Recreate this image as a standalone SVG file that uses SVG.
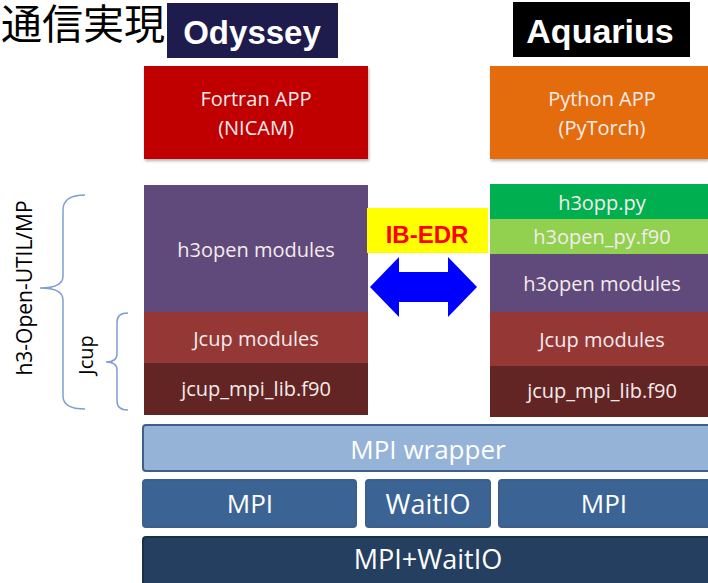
<svg xmlns="http://www.w3.org/2000/svg" width="708" height="583" viewBox="0 0 708 583">
<defs>
<filter id="sh" x="-5%" y="-5%" width="110%" height="115%"><feDropShadow dx="1" dy="2" stdDeviation="1.5" flood-color="#000" flood-opacity="0.3"/></filter>
</defs>
<style>
.t{font-family:"Open Sans","Noto Sans",sans-serif;fill:#f4ecec;text-anchor:middle;}
.s20{font-size:20px}
.s26{font-size:26px}
.s27{font-size:27px}
.hdr{font-family:"Liberation Sans",Arial,sans-serif;font-weight:bold;fill:#fff;text-anchor:middle}
.brace{fill:none;stroke:#7f9fd0;stroke-width:1.5}
.bar{stroke:#3d5f8c;stroke-width:2}
</style>
<rect width="708" height="583" fill="#fff"/>
<text x="1" y="39" font-family="'Noto Sans CJK JP','Noto Sans CJK SC',sans-serif" font-size="41" fill="#000">通信実現</text>
<g id="odyssey"><rect x="167" y="3" width="171" height="55" fill="#1e1b4d"/><text class="hdr" x="252" y="44" font-size="33">Odyssey</text></g>
<g id="aquarius"><rect x="513" y="2" width="177" height="55" fill="#000"/><text class="hdr" x="600" y="43" font-size="34">Aquarius</text></g>

<g id="fortran-app"><rect x="144" y="66" width="224" height="93" fill="#c00000" filter="url(#sh)"/><text class="t s20" x="256" y="106">Fortran APP</text><text class="t s20" x="256" y="135">(NICAM)</text></g>
<g id="python-app"><rect x="490" y="66" width="218" height="93" fill="#e46c0a" filter="url(#sh)"/><text class="t s20" x="602" y="106">Python APP</text><text class="t s20" x="602" y="135">(PyTorch)</text></g>

<g id="left-h3open"><rect x="144" y="185" width="224" height="127" fill="#604a7b"/><text class="t s20" x="256" y="257">h3open modules</text></g>
<g id="left-jcup"><rect x="144" y="312" width="224" height="51" fill="#953735"/><text class="t s20" x="256" y="346">Jcup modules</text></g>
<g id="left-jcupmpi"><rect x="144" y="363" width="224" height="52" fill="#632523"/><text class="t s20" x="256" y="396">jcup_mpi_lib.f90</text></g>

<g id="right-h3opp"><rect x="490" y="184" width="218" height="35" fill="#00b050"/><text class="t s20" x="602" y="210">h3opp.py</text></g>
<g id="right-h3openpy"><rect x="490" y="219" width="218" height="35" fill="#92d050"/><text class="t s20" x="602" y="244">h3open_py.f90</text></g>
<g id="right-h3open"><rect x="490" y="254" width="218" height="58" fill="#604a7b"/><text class="t s20" x="602" y="291">h3open modules</text></g>
<g id="right-jcup"><rect x="490" y="312" width="218" height="54" fill="#953735"/><text class="t s20" x="602" y="347">Jcup modules</text></g>
<g id="right-jcupmpi"><rect x="490" y="366" width="218" height="51" fill="#632523"/><text class="t s20" x="602" y="398">jcup_mpi_lib.f90</text></g>

<g id="mpi-wrapper"><rect class="bar" x="143" y="425" width="570" height="46" rx="3" fill="#95b3d7"/><text class="t s26" x="428" y="459" style="fill:#fff">MPI wrapper</text></g>
<g id="mpi-left"><rect class="bar" x="143" y="480" width="213" height="47" rx="3" fill="#3b6495"/><text class="t s26" x="250" y="513" style="fill:#fff">MPI</text></g>
<g id="waitio"><rect class="bar" x="366" y="480" width="124" height="47" rx="3" fill="#3b6495"/><text class="t s27" x="428" y="514" style="fill:#fff">WaitIO</text></g>
<g id="mpi-right"><rect class="bar" x="499" y="480" width="214" height="47" rx="3" fill="#3b6495"/><text class="t s26" x="604" y="513" style="fill:#fff">MPI</text></g>
<g id="mpi-waitio"><rect class="bar" x="143" y="537" width="570" height="50" rx="3" fill="#243f60" style="stroke:#1a2f4a"/><text class="t s27" x="428" y="569" style="fill:#fff">MPI+WaitIO</text></g>

<g id="ib-edr"><rect x="367" y="208" width="121" height="45" fill="#ffff00"/><text x="427" y="243" font-family="'Liberation Sans',Arial,sans-serif" font-weight="bold" font-size="24" fill="#ff0000" text-anchor="middle">IB-EDR</text></g>

<g id="connectors">
<polygon points="370,287 399,257 399,272 448,272 448,257 477,287 448,317 448,302 399,302 399,317" fill="#0000ff"/>
</g>

<g id="braces">
<path class="brace" d="M85,195 Q63,195 63,210 L63,276 Q63,288 40,288 Q63,288 63,300 L63,396 Q63,409 85,409"/>
<path class="brace" d="M128,313 Q117,313 117,322 L117,354 Q117,362 106,362 Q117,362 117,370 L117,401 Q117,410 128,410"/>
<text x="0" y="0" transform="translate(32,288) rotate(-90)" font-family="'Open Sans','Noto Sans',sans-serif" font-size="21" fill="#000" text-anchor="middle">h3-Open-UTIL/MP</text>
<text x="0" y="0" transform="translate(93,355) rotate(-90)" font-family="'Open Sans','Noto Sans',sans-serif" font-size="20" fill="#000" text-anchor="middle">Jcup</text>
</g>
</svg>
